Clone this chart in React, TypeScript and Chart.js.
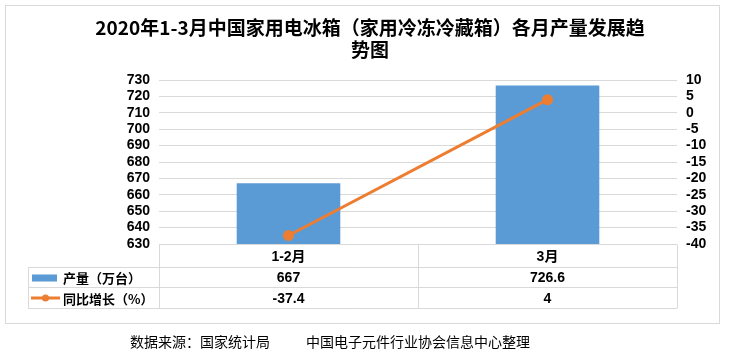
import React, { useEffect, useRef } from "react";
import { Chart, registerables } from "chart.js";

Chart.register(...registerables);

const titleLines = ["2020年1-3月中国家用电冰箱（家用冷冻冷藏箱）各月产量发展趋", "势图"];
const categories = ["1-2月", "3月"];
const production = [667, 726.6];
const growth = [-37.4, 4];
const seriesNames = ["产量（万台）", "同比增长（%）"];
const leftAxis = { min: 630, max: 730, step: 10 };
const rightAxis = { min: -40, max: 10, step: 5 };
const footerSource = "数据来源：国家统计局";
const footerOrg = "中国电子元件行业协会信息中心整理";

const BAR_COLOR = "#5B9BD5";
const LINE_COLOR = "#ED7D31";
const GRID = "#d9d9d9";
const CJK = '"Noto Sans CJK SC", sans-serif';
const NUM = '"Liberation Sans", "Noto Sans CJK SC", sans-serif';

const decorPlugin = {
  id: "decor",
  afterDraw(chart: any) {
    const ctx = chart.ctx as CanvasRenderingContext2D;
    const { left, right, bottom } = chart.chartArea;
    const xs = chart.scales.x;
    const n = categories.length;
    ctx.save();
    // outer border
    ctx.strokeStyle = GRID;
    ctx.lineWidth = 1;
    ctx.strokeRect(5.5, 5.5, 714, 318);

    // title
    ctx.fillStyle = "#000";
    ctx.font = "bold 19px " + CJK;
    ctx.textAlign = "center";
    ctx.textBaseline = "middle";
    ctx.fillText(titleLines[0], 370, 28);
    ctx.fillText(titleLines[1], 370, 50);

    // table
    const r0 = Math.round(bottom) + 0.5;
    const r1 = 267.5;
    const r2 = 287.5;
    const r3 = 308.5;
    const tl = 28.5;
    ctx.strokeStyle = GRID;
    ctx.beginPath();
    ctx.moveTo(left, r0);
    ctx.lineTo(right, r0);
    [r1, r2, r3].forEach((y) => {
      ctx.moveTo(tl, y);
      ctx.lineTo(right, y);
    });
    ctx.moveTo(tl, r1);
    ctx.lineTo(tl, r3);
    for (let i = 0; i <= n; i++) {
      const x = Math.round(left + ((right - left) * i) / n) + 0.5;
      ctx.moveTo(x, r0);
      ctx.lineTo(x, r3);
    }
    ctx.stroke();

    ctx.fillStyle = "#000";
    ctx.font = "bold 14px " + NUM;
    ctx.textAlign = "center";
    ctx.textBaseline = "middle";
    categories.forEach((c, i) => {
      const cx = xs.getPixelForValue(i);
      ctx.fillText(c, cx, (r0 + r1) / 2 + 1);
      ctx.fillText(String(production[i]), cx, (r1 + r2) / 2 + 1);
      ctx.fillText(String(growth[i]), cx, (r2 + r3) / 2 + 1);
    });

    // legend keys
    ctx.fillStyle = BAR_COLOR;
    ctx.fillRect(32, (r1 + r2) / 2 - 3, 25, 7);
    const ly = (r2 + r3) / 2;
    ctx.strokeStyle = LINE_COLOR;
    ctx.lineWidth = 3;
    ctx.beginPath();
    ctx.moveTo(31, ly);
    ctx.lineTo(60, ly);
    ctx.stroke();
    ctx.fillStyle = LINE_COLOR;
    ctx.beginPath();
    ctx.arc(45.5, ly, 3.5, 0, Math.PI * 2);
    ctx.fill();

    ctx.fillStyle = "#000";
    ctx.font = "bold 13px " + CJK;
    ctx.textAlign = "left";
    ctx.fillText(seriesNames[0], 63, (r1 + r2) / 2 + 1);
    ctx.fillText(seriesNames[1], 63, ly + 1);

    // footer
    ctx.font = "14px " + CJK;
    ctx.fillText(footerSource, 130, 342);
    ctx.fillText(footerOrg, 306, 342);
    ctx.restore();
  },
};

export default function App() {
  const ref = useRef<HTMLCanvasElement>(null);
  useEffect(() => {
    if (!ref.current) return;
    const chart = new Chart(ref.current, {
      type: "bar",
      data: {
        labels: categories,
        datasets: [
          {
            type: "line",
            label: seriesNames[1],
            data: growth,
            yAxisID: "y1",
            borderColor: LINE_COLOR,
            backgroundColor: LINE_COLOR,
            borderWidth: 3,
            pointRadius: 4,
            pointBackgroundColor: LINE_COLOR,
            pointBorderColor: LINE_COLOR,
            tension: 0,
            order: 0,
          },
          {
            type: "bar",
            label: seriesNames[0],
            data: production,
            yAxisID: "y",
            backgroundColor: BAR_COLOR,
            barPercentage: 0.4,
            categoryPercentage: 1,
            order: 1,
          },
        ],
      },
      options: {
        responsive: false,
        animation: false,
        devicePixelRatio: 1,
        layout: { padding: { top: 80, bottom: 112, left: 0, right: 0 } },
        plugins: { legend: { display: false }, tooltip: { enabled: false } },
        scales: {
          x: { display: false },
          y: {
            position: "left",
            min: leftAxis.min,
            max: leftAxis.max,
            ticks: {
              stepSize: leftAxis.step,
              autoSkip: false,
              padding: 9,
              color: "#000",
              font: { family: NUM, size: 14, weight: "bold" },
            },
            grid: { color: GRID, drawTicks: false },
            border: { display: false },
            afterFit: (s: any) => {
              s.width = 159;
            },
          },
          y1: {
            position: "right",
            min: rightAxis.min,
            max: rightAxis.max,
            ticks: {
              stepSize: rightAxis.step,
              autoSkip: false,
              padding: 9,
              color: "#000",
              font: { family: NUM, size: 14, weight: "bold" },
            },
            grid: { display: false, drawTicks: false },
            border: { display: false },
            afterFit: (s: any) => {
              s.width = 56;
            },
          },
        },
      },
      plugins: [decorPlugin],
    });
    return () => chart.destroy();
  }, []);
  return (
    <div style={{ position: "fixed", left: 0, top: 0, width: 733, height: 356, background: "#fff" }}>
      <canvas ref={ref} width={733} height={356} style={{ display: "block" }} />
    </div>
  );
}
